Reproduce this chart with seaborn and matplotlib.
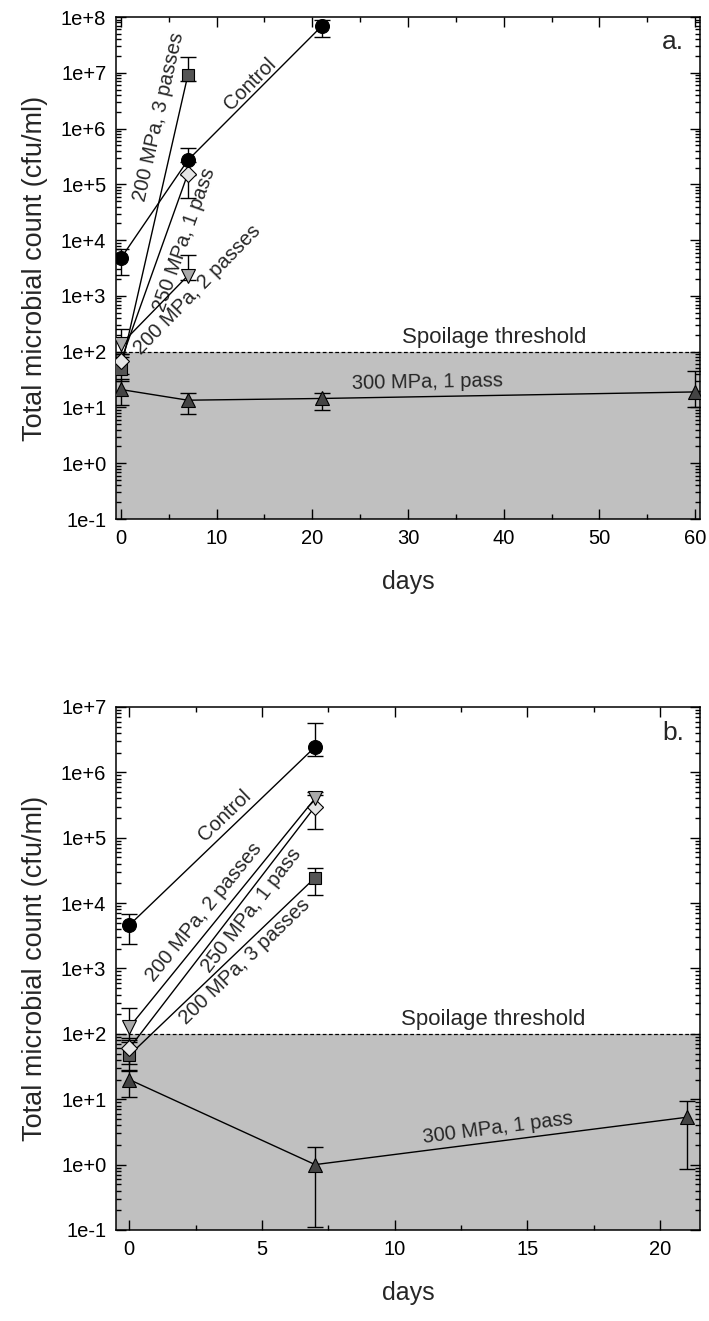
import numpy as np
import pandas as pd
import matplotlib
matplotlib.use('Agg')
import matplotlib.pyplot as plt
import matplotlib.ticker as mticker
import seaborn as sns

# ---- panel a. (days 0-60) ----
days_a_control = [0, 7, 21]
control_a = [4.7e3, 2.7e5, 6.9e7]
control_a_lo = [2.35e3, 1.5e5, 4.4e7]
control_a_hi = [7.0e3, 4.5e5, 9.0e7]

days_a_short = [0, 7]
p200x3_a = [48, 9.0e6]
p200x3_a_lo = [30, 7.0e6]
p200x3_a_hi = [80, 1.9e7]
p250x1_a = [67, 1.55e5]
p250x1_a_lo = [40, 5.6e4]
p250x1_a_hi = [90, 2.5e5]
p200x2_a = [135, 2.3e3]
p200x2_a_lo = [90, 1.9e3]
p200x2_a_hi = [250, 5.5e3]

days_a_300 = [0, 7, 21, 60]
p300x1_a = [21, 13.5, 14.5, 19]
p300x1_a_lo = [11, 7.6, 9, 10]
p300x1_a_hi = [32, 18, 18, 46]

# ---- panel b. (days 0-21) ----
days_b_short = [0, 7]
control_b = [4.6e3, 2.45e6]
control_b_lo = [2.35e3, 1.8e6]
control_b_hi = [6.9e3, 5.6e6]
p200x2_b = [126, 4.0e5]
p200x2_b_lo = [80, 3.0e5]
p200x2_b_hi = [250, 5.0e5]
p250x1_b = [60, 3.0e5]
p250x1_b_lo = [35, 1.38e5]
p250x1_b_hi = [85, 4.5e5]
p200x3_b = [47, 2.45e4]
p200x3_b_lo = [27, 1.35e4]
p200x3_b_hi = [75, 3.5e4]

days_b_300 = [0, 7, 21]
p300x1_b = [20, 1.0, 5.3]
p300x1_b_lo = [11, 0.11, 0.87]
p300x1_b_hi = [28, 1.85, 9.4]

threshold = 100

sns.set_style('ticks')
plt.rcParams['font.family'] = ['Liberation Sans', 'DejaVu Sans']

styles = {
    'control': dict(marker='o', markerfacecolor='black', markersize=10),
    'p200x3': dict(marker='s', markerfacecolor='#555555', markersize=8),
    'p250x1': dict(marker='D', markerfacecolor='#e6e6e6', markersize=8),
    'p200x2': dict(marker='v', markerfacecolor='#aaaaaa', markersize=10),
    'p300x1': dict(marker='^', markerfacecolor='#444444', markersize=10),
}


def draw_series(ax, x, y, lo, hi, key):
    y = np.array(y)
    yerr = [y - np.array(lo), np.array(hi) - y]
    ax.errorbar(x, y, yerr=yerr, fmt='none', ecolor='black', elinewidth=1,
                capsize=6, capthick=1, zorder=3)
    df = pd.DataFrame({'day': x, 'count': y})
    sns.lineplot(data=df, x='day', y='count', ax=ax, color='black', lw=1,
                 markeredgecolor='black', markeredgewidth=0.8, zorder=4,
                 estimator=None, sort=False, **styles[key])


def seg_angle(ax, p0, p1):
    a = ax.transData.transform(p0)
    b = ax.transData.transform(p1)
    return np.degrees(np.arctan2(b[1] - a[1], b[0] - a[0]))


def style_axes(ax, xmax, major, minor):
    ax.set_yscale('log')
    ax.set_xlim(-0.5, xmax)
    ax.yaxis.set_major_locator(mticker.LogLocator(base=10, numticks=20))
    ax.yaxis.set_minor_locator(mticker.LogLocator(base=10, subs=np.arange(2, 10), numticks=20))
    ax.yaxis.set_major_formatter(mticker.FuncFormatter(lambda v, p: f"1e{int(round(np.log10(v))):+d}"))
    ax.yaxis.set_minor_formatter(mticker.NullFormatter())
    ax.xaxis.set_major_locator(mticker.MultipleLocator(major))
    ax.xaxis.set_minor_locator(mticker.MultipleLocator(minor))
    ax.tick_params(which='both', direction='in', top=True, right=True, width=1, colors='black')
    ax.tick_params(which='major', length=7, labelsize=14.5, pad=7)
    ax.tick_params(which='minor', length=3.5)
    for s in ax.spines.values():
        s.set_linewidth(1.1)
        s.set_color('black')


fig = plt.figure(figsize=(7.09, 13.21), dpi=100)
ax_a = fig.add_axes([0.1636, 0.6071, 0.8237, 0.3800])
ax_b = fig.add_axes([0.1636, 0.0689, 0.8237, 0.3959])

# panel a
style_axes(ax_a, 60.5, 10, 5)
ax_a.set_ylim(1e-1, 1e8)
ax_a.axhspan(1e-1, threshold, color='#c0c0c0', zorder=0, lw=0)
ax_a.axhline(threshold, color='black', lw=0.9, ls=(0, (3, 2)), zorder=1)
draw_series(ax_a, days_a_300, p300x1_a, p300x1_a_lo, p300x1_a_hi, 'p300x1')
draw_series(ax_a, days_a_short, p200x2_a, p200x2_a_lo, p200x2_a_hi, 'p200x2')
draw_series(ax_a, days_a_short, p200x3_a, p200x3_a_lo, p200x3_a_hi, 'p200x3')
draw_series(ax_a, days_a_short, p250x1_a, p250x1_a_lo, p250x1_a_hi, 'p250x1')
draw_series(ax_a, days_a_control, control_a, control_a_lo, control_a_hi, 'control')

# panel b
style_axes(ax_b, 21.5, 5, 2.5)
ax_b.set_ylim(1e-1, 1e7)
ax_b.axhspan(1e-1, threshold, color='#c0c0c0', zorder=0, lw=0)
ax_b.axhline(threshold, color='black', lw=0.9, ls=(0, (3, 2)), zorder=1)
draw_series(ax_b, days_b_300, p300x1_b, p300x1_b_lo, p300x1_b_hi, 'p300x1')
draw_series(ax_b, days_b_short, p200x3_b, p200x3_b_lo, p200x3_b_hi, 'p200x3')
draw_series(ax_b, days_b_short, p250x1_b, p250x1_b_lo, p250x1_b_hi, 'p250x1')
draw_series(ax_b, days_b_short, p200x2_b, p200x2_b_lo, p200x2_b_hi, 'p200x2')
draw_series(ax_b, days_b_short, control_b, control_b_lo, control_b_hi, 'control')

for ax in (ax_a, ax_b):
    ax.set_xlabel('days', fontsize=18, labelpad=16)
    ax.set_ylabel('Total microbial count (cfu/ml)', fontsize=19.5, labelpad=9)

# labels along the lines, panel a
fs = 14.5
ax_a.text(13.5, 6.3e6, 'Control', fontsize=fs, ha='center', va='center',
          rotation=seg_angle(ax_a, (7, control_a[1]), (21, control_a[2])))
ax_a.text(4.0, 1.6e6, '200 MPa, 3 passes', fontsize=fs, ha='center', va='center',
          rotation=seg_angle(ax_a, (0, p200x3_a[0]), (7, p200x3_a[1])))
ax_a.text(6.6, 1.0e4, '250 MPa, 1 pass', fontsize=fs, ha='center', va='center',
          rotation=seg_angle(ax_a, (0, p250x1_a[0]), (7, p250x1_a[1])))
ax_a.text(8.0, 1.3e3, '200 MPa, 2 passes', fontsize=fs, ha='center', va='center',
          rotation=seg_angle(ax_a, (0, p200x2_a[0]), (7, p200x2_a[1])))
ax_a.text(32, 28, '300 MPa, 1 pass', fontsize=fs, ha='center', va='center',
          rotation=seg_angle(ax_a, (21, p300x1_a[2]), (60, p300x1_a[3])))
ax_a.text(39, 115, 'Spoilage threshold', fontsize=16, ha='center', va='bottom')
ax_a.text(0.954, 0.951, 'a.', transform=ax_a.transAxes, fontsize=19, ha='center', va='center')

# labels along the lines, panel b
ax_b.text(3.6, 2.2e5, 'Control', fontsize=fs, ha='center', va='center',
          rotation=seg_angle(ax_b, (0, control_b[0]), (7, control_b[1])))
ax_b.text(2.8, 7.2e3, '200 MPa, 2 passes', fontsize=fs, ha='center', va='center',
          rotation=seg_angle(ax_b, (0, p200x2_b[0]), (7, p200x2_b[1])))
ax_b.text(4.6, 7.8e3, '250 MPa, 1 pass', fontsize=fs, ha='center', va='center',
          rotation=seg_angle(ax_b, (0, p250x1_b[0]), (7, p250x1_b[1])))
ax_b.text(4.35, 1.3e3, '200 MPa, 3 passes', fontsize=fs, ha='center', va='center',
          rotation=seg_angle(ax_b, (0, p200x3_b[0]), (7, p200x3_b[1])))
ax_b.text(13.9, 3.6, '300 MPa, 1 pass', fontsize=fs, ha='center', va='center',
          rotation=seg_angle(ax_b, (7, p300x1_b[1]), (21, p300x1_b[2])))
ax_b.text(13.7, 115, 'Spoilage threshold', fontsize=16, ha='center', va='bottom')
ax_b.text(0.954, 0.951, 'b.', transform=ax_b.transAxes, fontsize=19, ha='center', va='center')

fig.savefig('out.png', dpi=100)
